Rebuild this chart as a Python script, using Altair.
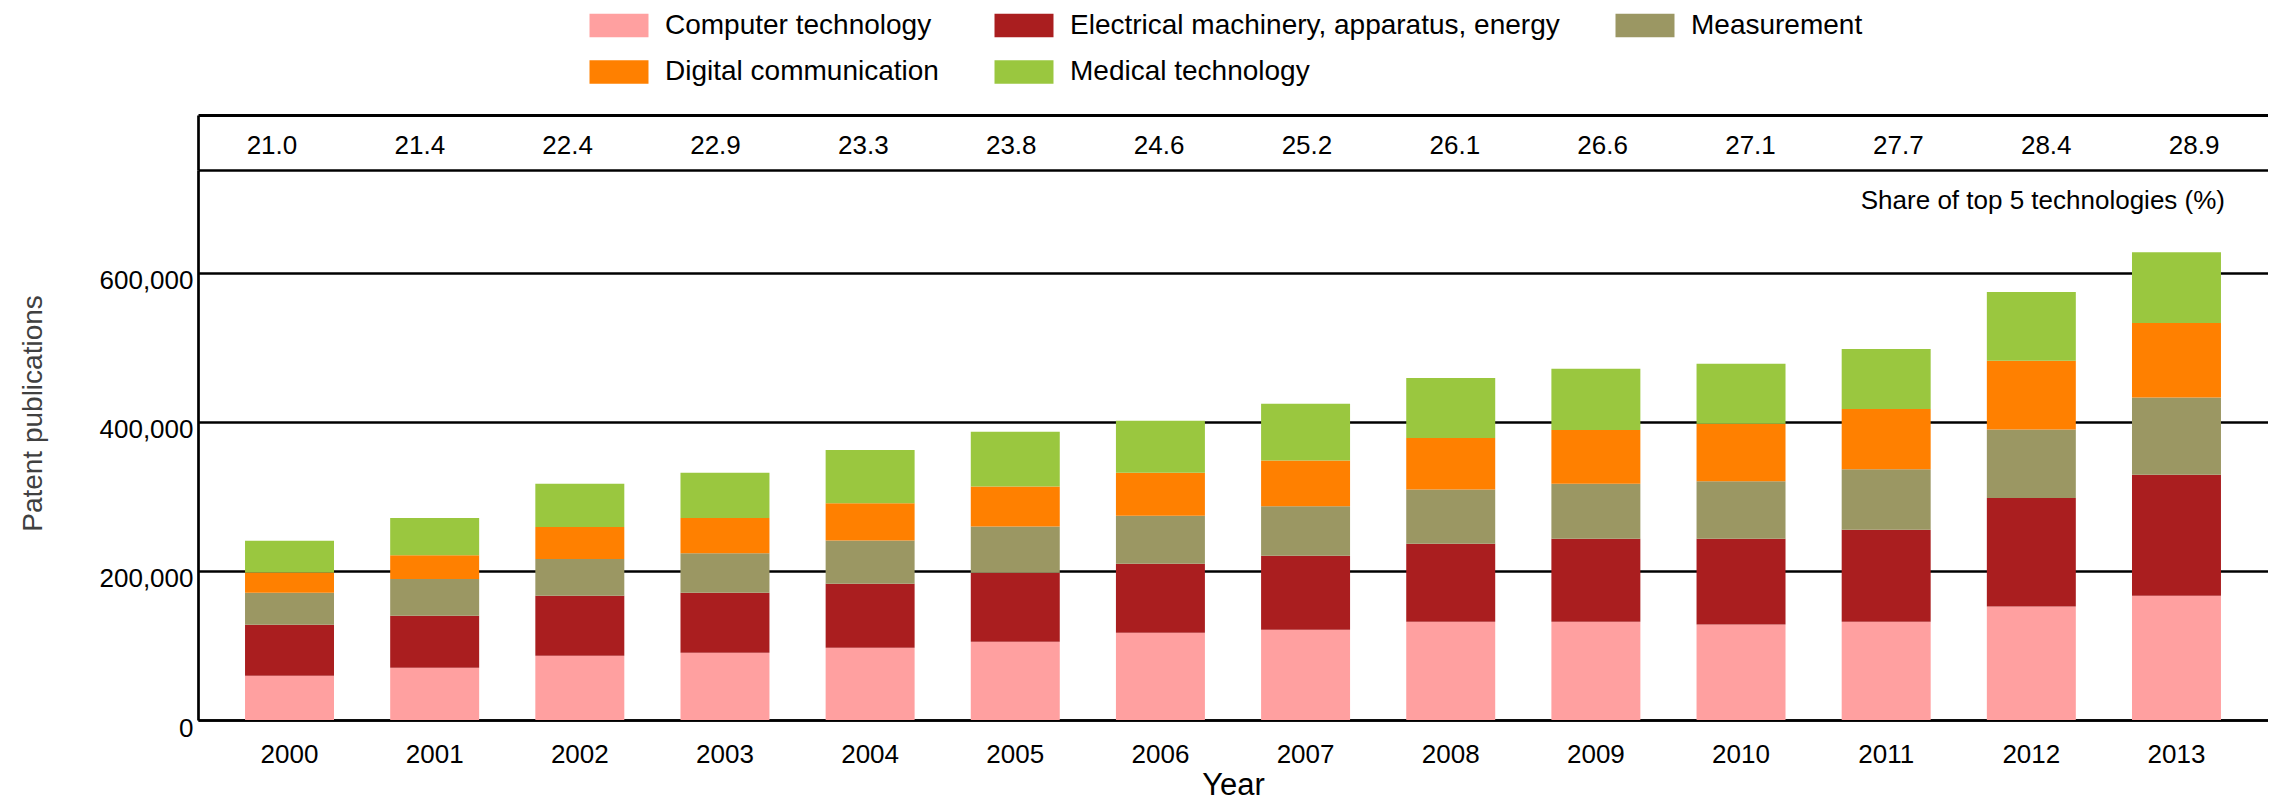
import altair as alt
import pandas as pd

years = ["2000", "2001", "2002", "2003", "2004", "2005", "2006",
         "2007", "2008", "2009", "2010", "2011", "2012", "2013"]
techs = ["Computer technology", "Electrical machinery, apparatus, energy",
         "Measurement", "Digital communication", "Medical technology"]
computer = [59500, 70200, 86300, 90200, 97100, 104900, 117100, 121000,
            131700, 131800, 128200, 131800, 152300, 166700]
electrical = [68300, 69800, 80500, 80500, 85800, 92700, 92700, 99500,
              104900, 111300, 114900, 123600, 145600, 162500]
measurement = [42900, 49300, 49300, 53200, 58100, 61900, 64300, 66300,
               72700, 73800, 77400, 81000, 91800, 103600]
digital = [27300, 31700, 42900, 47300, 49700, 53700, 57600, 61500,
           69200, 72300, 76900, 81000, 92300, 100000]
medical = [42500, 50200, 58000, 60500, 71700, 73600, 69800, 76100,
           80500, 82100, 80500, 80500, 92300, 94900]
share = [21.0, 21.4, 22.4, 22.9, 23.3, 23.8, 24.6, 25.2, 26.1, 26.6,
         27.1, 27.7, 28.4, 28.9]
colors = ["#FFA0A0", "#AA1E1F", "#9B9763", "#FF8000", "#9AC73F"]

series = [computer, electrical, measurement, digital, medical]
rows = []
for ti, (t, vals) in enumerate(zip(techs, series)):
    for y, v in zip(years, vals):
        rows.append({"Year": y, "Tech": t, "Value": v, "idx": ti})
df = pd.DataFrame(rows)
share_df = pd.DataFrame({"Year": years, "Share": [f"{s:.1f}" for s in share], "row": "share"})

FONT = "Liberation Sans, Arial, sans-serif"
W = 2070
LW = 2.7
band = alt.Scale(paddingInner=0.387, paddingOuter=0.324)

top = alt.Chart(share_df).mark_text(fontSize=26, font=FONT, color="black", dy=3).encode(
    x=alt.X("Year:N", scale=band,
            axis=alt.Axis(orient="top", labels=False, ticks=False, title=None,
                          domainColor="black", domainWidth=3, grid=False)),
    y=alt.Y("row:N", axis=alt.Axis(labels=False, ticks=False, title=None,
                                   domainColor="black", domainWidth=LW, grid=False)),
    text="Share:N",
).properties(width=W, height=55)

main = alt.Chart(df).mark_bar(strokeWidth=0).encode(
    x=alt.X("Year:N", scale=band,
            axis=alt.Axis(labelAngle=0, ticks=False, labelPadding=21, labelFontSize=26,
                          labelFont=FONT, labelColor="black", domainColor="black",
                          domainWidth=LW, grid=False, title="Year", titleFontSize=31,
                          titleFont=FONT, titleFontWeight="normal", titleColor="black",
                          titlePadding=3)),
    y=alt.Y("Value:Q", stack="zero", scale=alt.Scale(domain=[0, 738000], nice=False),
            axis=alt.Axis(values=[0, 200000, 400000, 600000, 738000],
                          labelExpr="datum.value > 700000 ? '' : format(datum.value, ',')",
                          ticks=False, labelPadding=5, labelFontSize=26, labelFont=FONT,
                          labelColor="black", labelOffset=8, domainColor="black", domainWidth=LW,
                          grid=True, gridColor="black", gridWidth=LW, gridOpacity=1,
                          title="Patent publications", titleFontSize=28, titleFont=FONT,
                          titleFontWeight="normal", titleColor="#404040", titlePadding=52,
                          titleY=243)),
    color=alt.Color("Tech:N", sort=techs,
                    scale=alt.Scale(domain=techs, range=colors),
                    legend=alt.Legend(orient="none", legendX=406, legendY=-104.5,
                                      direction="horizontal", columns=3, title=None,
                                      symbolType="M-2,-0.8H2V0.8H-2Z", symbolSize=870,
                                      symbolStrokeWidth=0, symbolOpacity=1,
                                      labelFontSize=28, labelFont=FONT, labelColor="black",
                                      labelOffset=31, columnPadding=55, rowPadding=17.5,
                                      labelLimit=0, padding=0)),
    order=alt.Order("idx:Q"),
).properties(
    width=W, height=550,
    title=alt.TitleParams("Share of top 5 technologies (%)", anchor="end", frame="group",
                          offset=-44, dx=-43, fontSize=26, font=FONT,
                          fontWeight="normal", color="black"),
)

chart = alt.vconcat(top, main, spacing=0).properties(
    padding={"left": 11, "top": 2, "right": 0, "bottom": 0}
).configure_view(stroke=None)

chart.save("out.html", embed_options={"renderer": "svg", "actions": False})
